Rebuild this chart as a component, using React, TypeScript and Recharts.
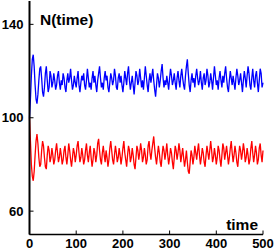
import React from 'react';
import {
  LineChart, Line, XAxis, YAxis, Customized,
} from 'recharts';

// sampled every 2 time units, t = 0 .. 500
const STEP = 2;

const blueN = [
  100, 108, 118, 125, 127, 122, 114, 108, 106, 110,
  116, 121, 122, 117, 111, 109, 113, 119, 122, 116,
  111, 113, 120, 118, 113, 115, 119, 116, 112, 114,
  118, 120, 115, 112, 116, 114, 119, 117, 113, 111,
  116, 119, 115, 117, 121, 116, 112, 114, 118, 115,
  113, 117, 120, 114, 111, 115, 118, 116, 119, 114,
  112, 116, 121, 117, 113, 115, 112, 117, 120, 115,
  118, 114, 111, 116, 119, 122, 117, 113, 115, 112,
  117, 120, 116, 118, 113, 111, 115, 119, 117, 114,
  116, 121, 118, 113, 112, 117, 119, 115, 118, 114,
  111, 115, 120, 117, 114, 119, 122, 116, 112, 115,
  118, 114, 110, 115, 120, 118, 114, 116, 121, 117,
  113, 116, 112, 117, 122, 118, 114, 111, 116, 119,
  115, 118, 121, 116, 112, 109, 114, 119, 117, 113,
  116, 120, 123, 117, 113, 116, 114, 118, 115, 112,
  117, 121, 118, 114, 116, 119, 115, 112, 117, 120,
  116, 113, 118, 121, 117, 114, 112, 118, 122, 125,
  119, 114, 111, 116, 119, 115, 117, 113, 118, 121,
  117, 114, 116, 120, 115, 112, 117, 119, 114, 116,
  121, 118, 113, 115, 119, 116, 112, 117, 122, 118,
  114, 116, 112, 117, 120, 116, 113, 118, 115, 119,
  122, 117, 113, 111, 116, 120, 117, 114, 118, 115,
  112, 117, 121, 118, 114, 116, 119, 115, 111, 116,
  120, 117, 113, 118, 122, 119, 114, 112, 117, 121,
  116, 113, 118, 120, 115, 111, 116, 121, 119, 113,
  115,
];

const redN = [
  100, 90, 80, 75, 73, 77, 84, 90, 93, 89,
  83, 79, 80, 86, 90, 88, 83, 79, 78, 84,
  88, 86, 81, 83, 87, 84, 80, 82, 86, 89,
  85, 81, 83, 87, 84, 80, 82, 86, 88, 83,
  80, 84, 89, 86, 82, 79, 83, 87, 85, 81,
  84, 88, 90, 85, 81, 83, 87, 84, 80, 82,
  86, 89, 84, 81, 85, 88, 83, 79, 82, 87,
  85, 81, 84, 89, 91, 86, 82, 80, 85, 88,
  84, 81, 86, 83, 79, 82, 87, 90, 86, 82,
  80, 84, 88, 85, 81, 83, 87, 84, 80, 83,
  87, 90, 85, 82, 79, 84, 88, 86, 81, 83,
  87, 84, 80, 78, 83, 88, 86, 82, 85, 89,
  86, 81, 83, 87, 84, 80, 82, 88, 90, 85,
  82, 86, 89, 92, 87, 83, 80, 84, 88, 85,
  81, 79, 84, 88, 86, 82, 85, 89, 84, 80,
  83, 87, 85, 81, 78, 83, 88, 86, 82, 85,
  89, 86, 81, 84, 87, 83, 79, 82, 86, 81,
  77, 76, 81, 86, 84, 80, 83, 88, 85, 82,
  86, 89, 84, 80, 83, 87, 85, 81, 79, 84,
  88, 85, 82, 86, 90, 86, 81, 83, 87, 84,
  80, 83, 88, 86, 82, 79, 84, 89, 87, 82,
  85, 88, 84, 80, 83, 87, 90, 85, 81, 84,
  88, 85, 81, 79, 84, 88, 86, 82, 85, 89,
  86, 81, 83, 87, 84, 80, 82, 87, 90, 85,
  81, 84, 88, 85, 80, 82, 87, 89, 84, 81,
  86,
];

const xTicks = [0, 100, 200, 300, 400, 500];
const yTicks = [60, 100, 140];

const data = blueN.map((b, i) => ({ time: i * STEP, blue: b, red: redN[i] }));

const FONT = '"Liberation Sans", Arial, Helvetica, sans-serif';
const tickStyle = { fill: '#000', fontSize: 13, fontWeight: 700, fontFamily: FONT };
const noLabel = () => '';

const Titles = () => (
  <g fontFamily={FONT} fontWeight={700} fontSize={15.5} fill="#000">
    <text x={40} y={25}>N(time)</text>
    <text x={258} y={230} textAnchor="end">time</text>
  </g>
);

export default function App() {
  return (
    <div style={{ position: 'absolute', left: 0, top: 0, background: '#fff' }}>
      <LineChart
        width={278}
        height={250}
        data={data}
        margin={{ top: 1, right: 15, bottom: 0, left: 0 }}
      >
        <XAxis
          xAxisId="bottom"
          dataKey="time"
          type="number"
          domain={[0, 500]}
          ticks={xTicks}
          height={15.5}
          tickSize={-4}
          tickMargin={8}
          tick={tickStyle}
          axisLine={{ stroke: '#000', strokeWidth: 1.6 }}
          tickLine={{ stroke: '#000', strokeWidth: 1 }}
        />
        <XAxis
          xAxisId="top"
          orientation="top"
          dataKey="time"
          type="number"
          domain={[0, 500]}
          ticks={xTicks}
          height={0}
          tickSize={-4}
          tickFormatter={noLabel}
          axisLine={{ stroke: '#000', strokeWidth: 1.5 }}
          tickLine={{ stroke: '#000', strokeWidth: 1 }}
        />
        <YAxis
          yAxisId="left"
          type="number"
          domain={[50, 150]}
          ticks={yTicks}
          width={29.5}
          tickSize={-4}
          tickMargin={10}
          tick={tickStyle}
          axisLine={{ stroke: '#000', strokeWidth: 2 }}
          tickLine={{ stroke: '#000', strokeWidth: 1 }}
        />
        <YAxis
          yAxisId="right"
          orientation="right"
          type="number"
          domain={[50, 150]}
          ticks={yTicks}
          width={0}
          tickSize={-4}
          tickFormatter={noLabel}
          axisLine={{ stroke: '#7a7a7a', strokeWidth: 2 }}
          tickLine={{ stroke: '#555', strokeWidth: 1 }}
        />
        <Line
          xAxisId="bottom"
          yAxisId="left"
          type="linear"
          dataKey="blue"
          stroke="#0000ff"
          strokeWidth={1.3}
          dot={false}
          isAnimationActive={false}
        />
        <Line
          xAxisId="bottom"
          yAxisId="left"
          type="linear"
          dataKey="red"
          stroke="#ff0000"
          strokeWidth={1.3}
          dot={false}
          isAnimationActive={false}
        />
        <Customized component={Titles} />
      </LineChart>
    </div>
  );
}
